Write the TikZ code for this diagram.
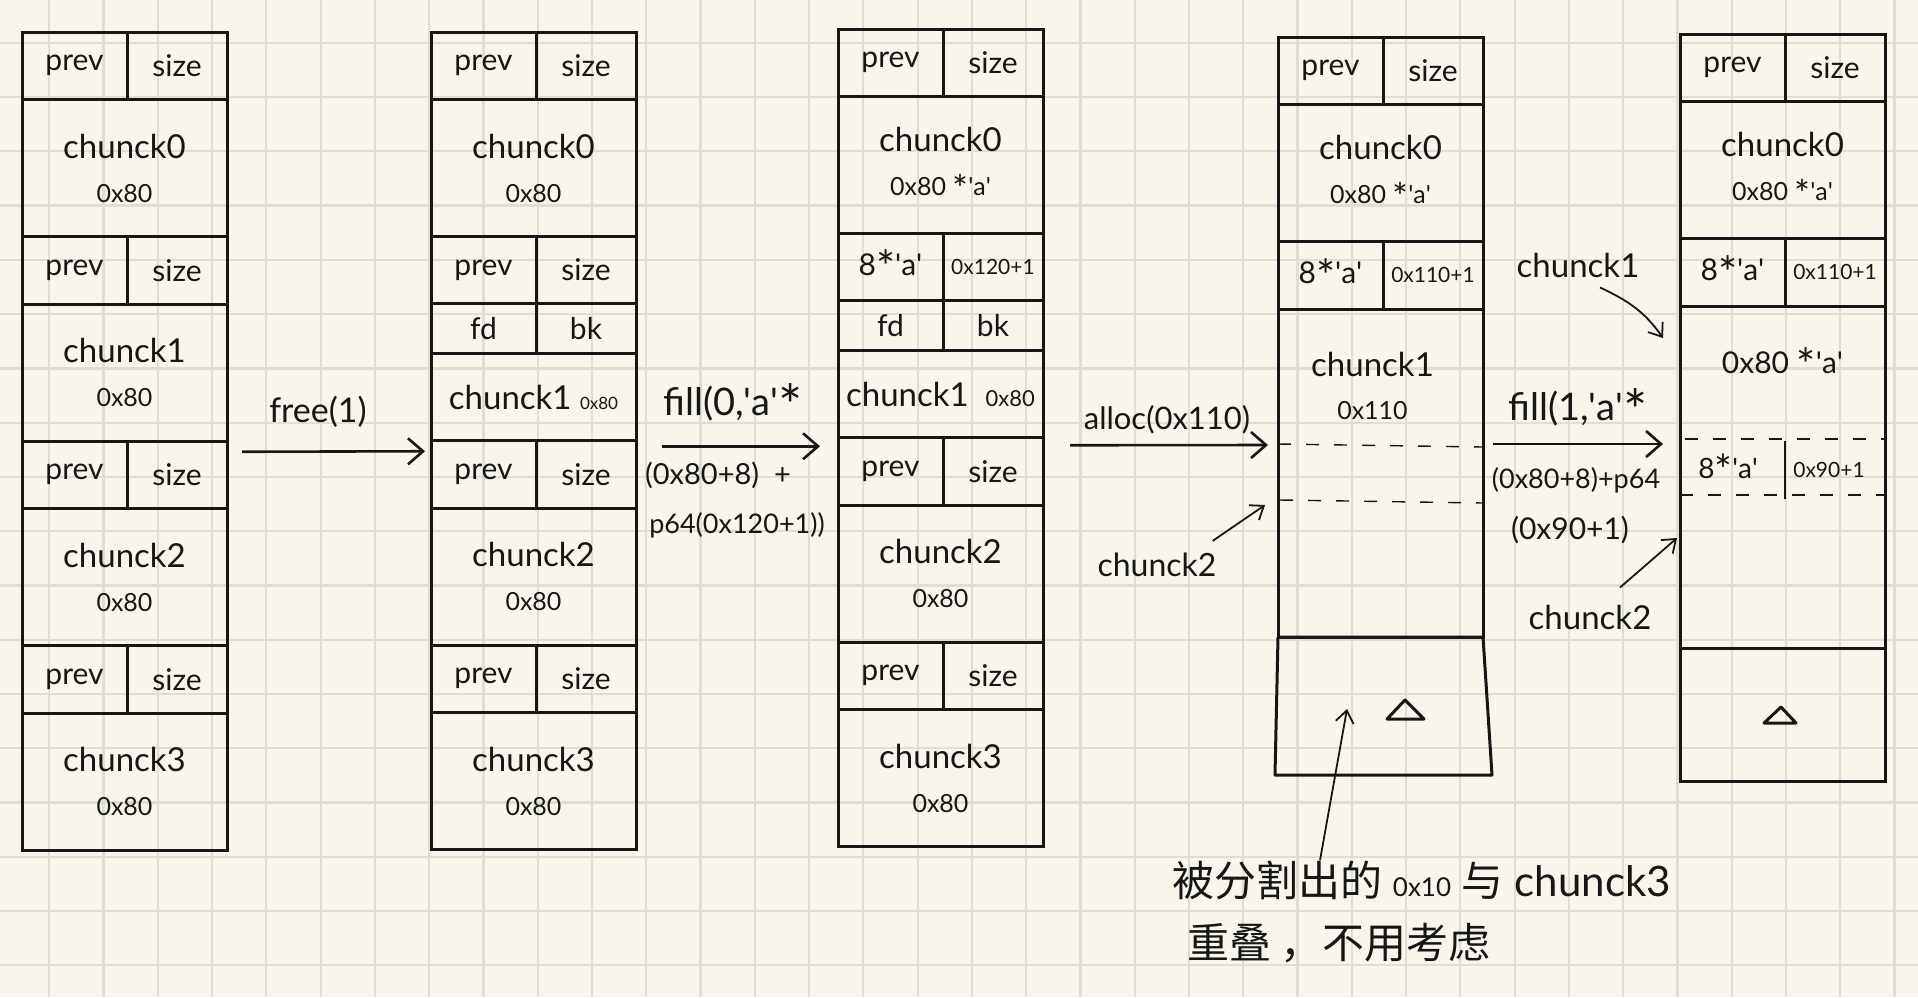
\documentclass[tikz,border=0pt]{standalone}
\usepackage{fontspec}
\setmainfont{Lato}
\newfontfamily\cjk{Noto Sans CJK SC}
\usetikzlibrary{arrows.meta}
\definecolor{paper}{RGB}{248,246,236}
\definecolor{gridc}{RGB}{223,222,211}
\definecolor{ink}{RGB}{22,22,22}
\newcommand{\hs}[2]{\fontsize{#1}{#2}\selectfont}
\newcommand{\szfont}{\hs{25}{30}}
\newcommand{\hexfont}{\hs{21}{24}}
\newcommand{\qt}{\textquotesingle}
\newcommand{\mul}{\raisebox{-0.55ex}{\scalebox{1.5}{*}}}

\tikzset{
  cell/.style={draw=ink, line width=3pt, anchor=north west, inner sep=0pt, outer sep=0pt, text=ink, font=\hs{30}{36}},
  lhalf/.style={cell, minimum width=105pt, minimum height=#1}, lhalf/.default=67.5pt,
  rhalf/.style={cell, minimum width=100pt, minimum height=#1}, rhalf/.default=67.5pt,
  whole/.style={cell, minimum width=205pt, minimum height=#1, align=center, font=\hs{33}{44}}, whole/.default=137pt,
  txt/.style={text=ink, inner sep=0pt},
  rim/.style={draw=ink, line width=3pt, line join=round},
  cut/.style={draw=ink, line width=1.4pt, dash pattern=on 13pt off 15pt},
  flow/.style={draw=ink, line width=2.6pt, -{Straight Barb[length=15pt,width=26pt]}},
  pointer/.style={draw=ink, line width=1.8pt, -{Straight Barb[length=12pt,width=18pt]}},
  gridline/.style={draw=gridc, line width=2.2pt}
}

\begin{document}
\begin{tikzpicture}[x=1pt,y=-1pt]
\fill[paper] (0,0) rectangle (1918,997);
\useasboundingbox (0,0) rectangle (1918,997);
\begin{scope}
\clip (0,0) rectangle (1918,997);
\foreach \k in {0,...,36} \draw[gridline] ({-4.97+54.27*\k},0) -- ++(0,997);
\foreach \k in {0,...,19} \draw[gridline] (0,{-11.5+54.27*\k}) -- ++(1918,0);
\end{scope}

% column 1 : four chunks
\node[lhalf] (c1p0) at (22,32) {prev};
\node[rhalf] (c1s0) at (c1p0.north east) {size};
\node[whole] (c1b0) at (c1p0.south west) {chunck0\\{\szfont 0x80}};
\node[lhalf] (c1p1) at (c1b0.south west) {prev};
\node[rhalf] (c1s1) at (c1p1.north east) {size};
\node[whole] (c1b1) at (c1p1.south west) {chunck1\\{\szfont 0x80}};
\node[lhalf] (c1p2) at (c1b1.south west) {prev};
\node[rhalf] (c1s2) at (c1p2.north east) {size};
\node[whole] (c1b2) at (c1p2.south west) {chunck2\\{\szfont 0x80}};
\node[lhalf] (c1p3) at (c1b2.south west) {prev};
\node[rhalf] (c1s3) at (c1p3.north east) {size};
\node[whole] (c1b3) at (c1p3.south west) {chunck3\\{\szfont 0x80}};

% column 2 : chunck1 freed
\node[lhalf] (c2p0) at (431,32) {prev};
\node[rhalf] (c2s0) at (c2p0.north east) {size};
\node[whole] (c2b0) at (c2p0.south west) {chunck0\\{\szfont 0x80}};
\node[lhalf=67pt] (c2p1) at (c2b0.south west) {prev};
\node[rhalf=67pt] (c2s1) at (c2p1.north east) {size};
\node[lhalf=50pt] (c2fd) at (c2p1.south west) {fd};
\node[rhalf=50pt] (c2bk) at (c2fd.north east) {bk};
\node[whole=87pt] (c2b1) at (c2fd.south west) {chunck1 {\hs{17}{20}0x80}};
\node[lhalf] (c2p2) at (c2b1.south west) {prev};
\node[rhalf] (c2s2) at (c2p2.north east) {size};
\node[whole] (c2b2) at (c2p2.south west) {chunck2\\{\szfont 0x80}};
\node[lhalf] (c2p3) at (c2b2.south west) {prev};
\node[rhalf] (c2s3) at (c2p3.north east) {size};
\node[whole] (c2b3) at (c2p3.south west) {chunck3\\{\szfont 0x80}};

% column 3 : after fill(0)
\node[lhalf] (c3p0) at (838,29) {prev};
\node[rhalf] (c3s0) at (c3p0.north east) {size};
\node[whole] (c3b0) at (c3p0.south west) {chunck0\\{\szfont 0x80 \mul\qt a\qt}};
\node[lhalf=67pt] (c3p1) at (c3b0.south west) {8\mul\qt a\qt};
\node[rhalf=67pt] (c3s1) at (c3p1.north east) {\hexfont 0x120+1};
\node[lhalf=50pt] (c3fd) at (c3p1.south west) {fd};
\node[rhalf=50pt] (c3bk) at (c3fd.north east) {bk};
\node[whole=87pt] (c3b1) at (c3fd.south west) {chunck1 \ {\hs{22}{24}0x80}};
\node[lhalf] (c3p2) at (c3b1.south west) {prev};
\node[rhalf] (c3s2) at (c3p2.north east) {size};
\node[whole] (c3b2) at (c3p2.south west) {chunck2\\{\szfont 0x80}};
\node[lhalf] (c3p3) at (c3b2.south west) {prev};
\node[rhalf] (c3s3) at (c3p3.north east) {size};
\node[whole] (c3b3) at (c3p3.south west) {chunck3\\{\szfont 0x80}};

% column 4 : after alloc(0x110)
\node[lhalf] (c4p0) at (1278,37) {prev};
\node[rhalf] (c4s0) at (c4p0.north east) {size};
\node[whole] (c4b0) at (c4p0.south west) {chunck0\\{\szfont 0x80 \mul\qt a\qt}};
\node[lhalf] (c4p1) at (c4b0.south west) {8\mul\qt a\qt};
\node[rhalf] (c4s1) at (c4p1.north east) {\hexfont 0x110+1};
\node[whole=328pt] (c4body) at (c4p1.south west) {};
\node[txt, align=center, font=\hs{33}{43}] (c4txt) at ([xshift=-8pt,yshift=-77pt]c4body.north) {chunck1\\{\szfont 0x110}};
\draw[cut] (1278,444) -- (1483,447);
\draw[cut] (1280,500) -- (1483,503);
\draw[rim] (c4body.south west) -- (c4body.south east) -- ++(9,138) -- ([shift={(-3,138)}]c4body.south west) -- cycle;
\draw[rim] (1387,719) -- (1405,700) -- (1424,719) -- cycle;

% column 5 : after fill(1)
\node[lhalf] (c5p0) at (1680,34) {prev};
\node[rhalf] (c5s0) at (c5p0.north east) {size};
\node[whole] (c5b0) at (c5p0.south west) {chunck0\\{\szfont 0x80 \mul\qt a\qt}};
\node[lhalf] (c5p1) at (c5b0.south west) {8\mul\qt a\qt};
\node[rhalf] (c5s1) at (c5p1.north east) {\hexfont 0x110+1};
\node[whole=342pt] (c5body) at (c5p1.south west) {};
\node[whole=133pt] (c5base) at (c5body.south west) {};
\node[txt, font=\hs{30}{36}] (c5txt) at ([yshift=-59pt]c5body.north) {0x80 \mul\qt a\qt};
\draw[cut] ([yshift=-133pt]c5body.north west) rectangle ([yshift=-189pt]c5body.north east);
\draw[line width=1.6pt, ink] ([xshift=105pt,yshift=-135pt]c5body.north west) -- ++(0,58);
\node[txt, font=\hs{28}{32}] (c5fake) at ([xshift=48pt,yshift=-164pt]c5body.north west) {8\mul\qt a\qt};
\node[txt, font=\hexfont] (c5fsz) at ([xshift=149pt,yshift=-164pt]c5body.north west) {0x90+1};
\draw[rim] (1764,723) -- (1781,707) -- (1796,723) -- cycle;

% operations
\node[txt, font=\hs{34}{40}] (lfree) at (318,412) {free(1)};
\draw[flow] ([xshift=15pt,yshift=23pt]c1s2.east) -- ([xshift=-6pt,yshift=23pt]c2p2.west);

\node[txt, font=\hs{38}{44}] (lfill0) at (733,405) {fill(0,\qt a\qt\mul};
\node[txt, font=\hs{29}{34}] (lfill0b) at (718,475) {(0x80+8) \ +};
\node[txt, font=\hs{27}{32}] (lfill0c) at (737,525) {p64(0x120+1))};
\draw[flow] ([xshift=26pt,yshift=28pt]c2s2.east) -- ([xshift=-18pt,yshift=25pt]c3p2.west);

\node[txt, font=\hs{31}{36}] (lalloc) at (1167,420) {alloc(0x110)};
\draw[flow] ([xshift=27pt,yshift=26pt]c3s2.east) -- ([xshift=-10pt,yshift=28pt]c4body.west);
\node[txt, font=\hs{32}{36}] (l4c2) at (1157,565) {chunck2};
\draw[pointer] ([xshift=-4pt,yshift=12pt]l4c2.north east) -- ([xshift=-13pt,yshift=-32pt]c4body.west);

\node[txt, font=\hs{38}{44}] (lfill1) at (1578,410) {fill(1,\qt a\qt\mul};
\node[txt, font=\hs{27}{32}] (lfill1b) at (1576,480) {(0x80+8)+p64};
\node[txt, font=\hs{30}{34}] (lfill1c) at (1570,530) {(0x90+1)};
\draw[flow] ([xshift=10pt,yshift=29pt]c4body.east) -- ([xshift=-17pt,yshift=33pt]c5body.west);
\node[txt, font=\hs{33}{38}] (l5c1) at (1578,265) {chunck1};
\draw[pointer] ([xshift=22pt,yshift=-10pt]l5c1.south) to[out=-25,in=125] ([xshift=-17pt,yshift=-32pt]c5body.north west);
\node[txt, font=\hs{33}{38}] (l5c2) at (1590,617) {chunck2};
\draw[pointer] ([xshift=30pt,yshift=17pt]l5c2.north) -- ([xshift=-3pt,yshift=-61pt]c5body.west);

% note
\node[txt, anchor=west, font=\hs{42}{48}] (note1) at (1172,880) {{\cjk 被分割出的} {\hs{26}{30}0x10} {\cjk 与} chunck3};
\node[txt, anchor=west, font=\hs{42}{48}] (note2) at (1187,943) {\cjk 重叠 ，不用考虑};
\draw[pointer] ([xshift=148pt]note1.north west) -- ([xshift=69pt,yshift=-72pt]c4body.south west);
\end{tikzpicture}
\end{document}
